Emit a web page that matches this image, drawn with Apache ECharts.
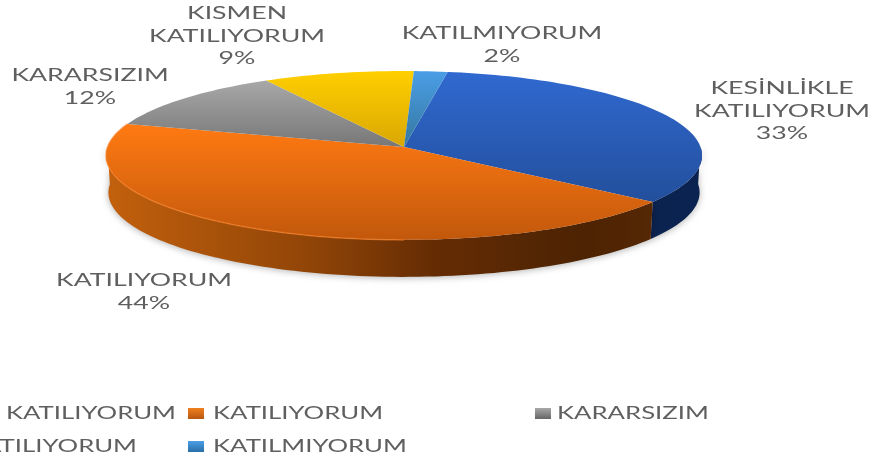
<!DOCTYPE html>
<html>
<head>
<meta charset="utf-8" />
<title>Pie</title>
<script src="https://cdn.jsdelivr.net/npm/echarts@6/dist/echarts.min.js"></script>
<style>
  html, body { margin: 0; padding: 0; background: #fff; }
  #chart { width: 875px; height: 457px; }
</style>
</head>
<body>
<div id="chart"></div>
<script>
var categories = ['KESİNLİKLE KATILIYORUM', 'KATILIYORUM', 'KARARSIZIM', 'KISMEN KATILIYORUM', 'KATILMIYORUM'];
var values = [33, 44, 12, 9, 2];

// label lines and where they sit
var labelLines = [['KESİNLİKLE', 'KATILIYORUM'], ['KATILIYORUM'], ['KARARSIZIM'], ['KISMEN', 'KATILIYORUM'], ['KATILMIYORUM']];
var labelX = [782, 144, 90, 237, 502];
var labelTop = [88, 280, 75, 13, 33];

// legend: the first column runs off the left edge like in the source
var legendMarkX = [-400, 188, 535, -400, 188];
var legendTextX = [176, 213, 557, 137, 213];
var legendAlign = ['right', 'left', 'left', 'right', 'left'];
var legendY = [413, 413, 413, 446, 446];

var topColors = [['#3069d0', '#234f9c'], ['#ff7a12', '#c2580c'], ['#a8a8a8', '#777777'], ['#ffcf00', '#d9a703'], ['#4a9ee6', '#35779f']];
var markColors = [['#3069d0', '#234f9c'], ['#f0801f', '#b8560e'], ['#a8a8a8', '#666666'], ['#ffcf00', '#d9a703'], ['#4a9ee6', '#2a6fa8']];
var wallColors = [null, null, null, null, null];
wallColors[0] = [[0, '#0a2048'], [1, '#0b2350']];
wallColors[1] = [[0, '#c2600d'], [0.35, '#8f4407'], [0.55, '#652c04'], [0.8, '#4c2303'], [1, '#5c2b05']];

// pie geometry, slight perspective so the apex sits above the ellipse centre
var cx = 404, cy = 147, radX = 296.5, radY = 83.6, persp = 0.1, depth = 37;
var startDeg = 9.3;

function project(deg, drop) {
    var t = deg * Math.PI / 180;
    var v = -Math.cos(t);
    var w = 1 - persp * v;
    var shrink = drop ? 0.992 : 1;
    return [cx + radX * shrink * Math.sin(t) / w, cy + radY * v / w + (drop || 0)];
}

function sliceRange(i) {
    var total = values.reduce(function (a, b) { return a + b; }, 0);
    var before = 0;
    for (var k = 0; k < i; k++) before += values[k];
    return [startDeg + before / total * 360, startDeg + (before + values[i]) / total * 360];
}

function arcPoints(a0, a1, drop) {
    var pts = [];
    var n = Math.max(2, Math.ceil((a1 - a0) / 1.5));
    for (var k = 0; k <= n; k++) pts.push(project(a0 + (a1 - a0) * k / n, drop));
    return pts;
}

function stops(list) {
    return list.map(function (s) { return { offset: s[0], color: s[1] }; });
}

function renderWall(params, api) {
    var r = sliceRange(params.dataIndex);
    var a0 = Math.max(r[0], 90), a1 = Math.min(r[1], 270);
    if (a1 <= a0 || !wallColors[params.dataIndex]) return null;
    var pts = arcPoints(a0, a1, 0).concat(arcPoints(a0, a1, depth).reverse());
    return {
        type: 'polygon',
        shape: { points: pts },
        style: {
            fill: { type: 'linear', x: 108, y: 0, x2: 700, y2: 0, global: true, colorStops: stops(wallColors[params.dataIndex]) },
            shadowBlur: 7,
            shadowColor: 'rgba(0,0,0,0.3)',
            shadowOffsetY: 1
        }
    };
}

function renderTop(params, api) {
    var i = params.dataIndex;
    var r = sliceRange(i);
    var pts = [[cx, cy]].concat(arcPoints(r[0], r[1], 0));
    var ys = pts.map(function (p) { return p[1]; });
    var children = [{
        type: 'polygon',
        shape: { points: pts },
        style: {
            fill: {
                type: 'linear', x: 0, y: Math.min.apply(null, ys), x2: 0, y2: Math.max.apply(null, ys), global: true,
                colorStops: [{ offset: 0, color: topColors[i][0] }, { offset: 1, color: topColors[i][1] }]
            }
        }
    }];
    if (i === 1) {
        // lit rim on the left of the orange slice
        children.push({
            type: 'polyline',
            shape: { points: arcPoints(180, r[1], 0) },
            style: { fill: 'none', stroke: '#f9822a', lineWidth: 1.5, opacity: 0.6 }
        });
    }
    return { type: 'group', children: children };
}

function makeLabels() {
    var out = [];
    categories.forEach(function (name, i) {
        var lines = labelLines[i].concat([values[i] + '%']);
        lines.forEach(function (line, k) {
            out.push({
                type: 'text',
                x: labelX[i],
                y: labelTop[i] + k * 22.7,
                scaleX: 1.48,
                silent: true,
                style: { text: line, font: '18px Lato', fill: '#5f5f5f', align: 'center', verticalAlign: 'middle' }
            });
        });
    });
    return out;
}

function makeLegend() {
    var out = [];
    categories.forEach(function (name, i) {
        out.push({
            type: 'rect',
            shape: { x: legendMarkX[i], y: legendY[i] - 5, width: 16, height: 11 },
            silent: true,
            style: {
                fill: {
                    type: 'linear', x: 0, y: 0, x2: 0, y2: 1,
                    colorStops: [{ offset: 0, color: markColors[i][0] }, { offset: 1, color: markColors[i][1] }]
                }
            }
        });
        out.push({
            type: 'text',
            x: legendTextX[i],
            y: legendY[i],
            scaleX: 1.43,
            silent: true,
            style: { text: name, font: '18px Lato', fill: '#5f5f5f', align: legendAlign[i], verticalAlign: 'middle' }
        });
    });
    return out;
}

var myChart = echarts.init(document.getElementById('chart'));

var dataRows = values.map(function (v, i) { return { name: categories[i], value: v }; });

myChart.setOption({
    backgroundColor: '#ffffff',
    animation: false,
    series: [
        { type: 'custom', name: 'kenar', coordinateSystem: 'none', silent: true, renderItem: renderWall, data: dataRows, z: 1 },
        { type: 'custom', name: 'dilim', coordinateSystem: 'none', silent: true, renderItem: renderTop, data: dataRows, z: 2 }
    ],
    graphic: { elements: makeLabels().concat(makeLegend()) }
});
</script>
</body>
</html>
